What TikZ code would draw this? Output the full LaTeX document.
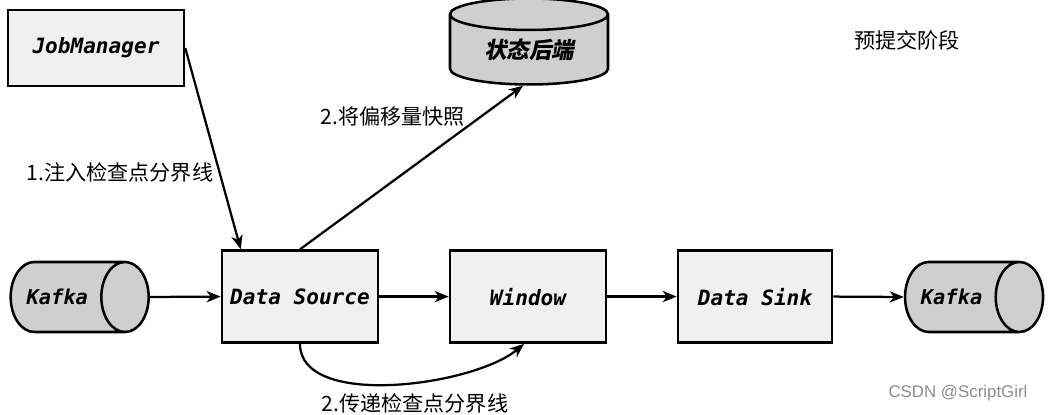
\documentclass[tikz,border=0pt]{standalone}
\usepackage{fontspec}
\usetikzlibrary{shapes.geometric, arrows.meta}
\newfontfamily\cjk{Noto Sans CJK SC}
\newfontfamily\cjkb{Noto Sans CJK SC}[FakeSlant=0.2]
\newfontfamily\mono{DejaVu Sans Mono}
\newfontfamily\wmark{Liberation Sans}
\begin{document}
\begin{tikzpicture}[line width=1.6pt, >={Stealth[length=10pt, width=8pt, inset=3pt]},
    box/.style={draw, line width=1.8pt, fill=gray!12, inner sep=0pt,
        minimum width=3.9cm, minimum height=2.3cm,
        font=\mono\bfseries\itshape\fontsize{15}{18}\selectfont},
    drum/.style={draw, line width=1.8pt, fill=gray!38, cylinder, inner sep=0pt,
        shape aspect=3.0, minimum width=1.75cm, minimum height=3.45cm,
        font=\mono\bfseries\itshape\fontsize{14.5}{18}\selectfont},
    note/.style={font=\cjk\fontsize{15}{18}\selectfont}]
    \useasboundingbox (0, 0) rectangle (26.375, 10.375);

    \node [box, minimum width=4.4cm, minimum height=1.9cm] (jm) at (2.4, 9.175) {JobManager};
    \node [draw, line width=1.8pt, fill=gray!38, cylinder, shape border rotate=90,
        shape aspect=0.35, inner sep=0pt, minimum width=3.95cm, minimum height=2.15cm,
        font=\cjkb\bfseries\fontsize{16}{18}\selectfont] (backend) at (13.225, 9.125) {状态后端};

    \node [drum] (kin) at (1.68, 2.95) {\hspace*{-0.5cm}Kafka};
    \node [box] (src) at (7.5, 2.96) {Data Source};
    \node [box] (win) at (13.2, 2.96) {Window};
    \node [box, minimum width=3.85cm] (sink) at (18.875, 2.96) {Data Sink};
    \node [drum] (kout) at (24.04, 2.95) {\hspace*{-0.5cm}Kafka};

    \draw [->] (kin.east) -- (src.west);
    \draw [->] (src.east) -- (win.west);
    \draw [->] (win.east) -- (sink.west);
    \draw [->] (sink.east) -- (kout.west);

    \draw [->] (jm.east) -- ([xshift=0.5cm]src.north west);
    \draw [->] (src.north) -- ([xshift=-0.15cm]backend.south);
    \draw [->] (src.south) to [out=-90, in=-140, looseness=0.75] ([xshift=-0.1cm]win.south);

    \node [note] (prep) at (22.675, 9.375) {预提交阶段};
    \node [note] (inject) at (3.0, 6.075) {1.注入检查点分界线};
    \node [note] (snap) at (9.825, 7.45) {2.将偏移量快照};
    \node [note] (pass) at (10.375, 0.3) {2.传递检查点分界线};
    \node [font=\wmark\fontsize{12}{14}\selectfont, text=gray!90] (mark) at (23.95, 0.55) {CSDN @ScriptGirl};
\end{tikzpicture}
\end{document}
